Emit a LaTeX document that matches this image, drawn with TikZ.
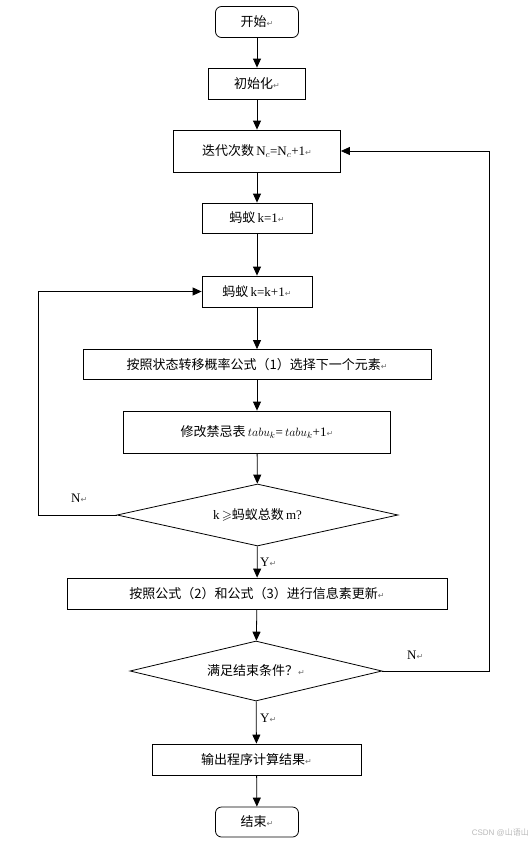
\documentclass[tikz,border=0pt]{standalone}
\usepackage{amssymb}
\usepackage{fontspec}
\usepackage{xcolor}
\usepackage{tikz}
\usetikzlibrary{arrows.meta,positioning,shapes.geometric}
\setmainfont{Noto Sans CJK SC}
\newfontfamily\latin{Liberation Serif}
\newfontfamily\symb{DejaVu Sans}
\newfontfamily\wmark{Liberation Sans}
\definecolor{markgray}{HTML}{707070}
\definecolor{wmgray}{HTML}{B8B8B8}
\newcommand{\retmark}{{\symb\fontsize{8}{8}\selectfont\textcolor{markgray}{↵}}}

\tikzset{
  procbox/.style={draw, line width=0.8pt, minimum height=31pt, inner sep=2pt,
                  font=\fontsize{13}{16}\selectfont},
  termbox/.style={procbox, rounded corners=6pt},
  decision/.style={draw, diamond, aspect=6, inner sep=0pt, line width=0.8pt,
                   font=\fontsize{13}{16}\selectfont},
  flow/.style={-{Triangle[length=9pt,width=8pt]}, line width=0.8pt},
  yn/.style={font=\latin\fontsize{13}{16}\selectfont, inner sep=0pt, anchor=west}
}

\begin{document}
\begin{tikzpicture}[x=1pt, y=-1pt]
    \useasboundingbox (0,0) rectangle (532,846);

    % main column
    \node[termbox, minimum width=83pt] (start) at (257,22) {开始\retmark};
    \node[procbox, minimum width=97pt] (init) at (257,83.5) {初始化\retmark};
    \node[procbox, minimum width=167pt, minimum height=42pt] (iter) at (257,151)
        {迭代次数\,{\latin N$_c$=N$_c$+1}\retmark};
    \node[procbox, minimum width=110pt, minimum height=30pt] (antone) at (257,218)
        {蚂蚁\,{\latin k=1}\retmark};
    \node[procbox, minimum width=110pt] (antnext) at (257,291.5)
        {蚂蚁\,{\latin k=k+1}\retmark};
    \node[procbox, minimum width=348pt, minimum height=30pt] (select) at (257,364.5)
        {按照状态转移概率公式（1）选择下一个元素\retmark};
    \node[procbox, minimum width=267pt, minimum height=42pt] (tabu) at (257,432)
        {修改禁忌表\,$tabu_k${\latin =}\,$tabu_k${\latin +1}\retmark};
    \node[decision, minimum width=281pt, minimum height=62pt] (antcheck) at (257.5,515)
        {{\latin k}\,$\geqslant$蚂蚁总数\,{\latin m?}};
    \node[procbox, minimum width=380pt] (update) at (257,593.5)
        {按照公式（2）和公式（3）进行信息素更新\retmark};
    \node[decision, minimum width=252pt, minimum height=60pt] (endcheck) at (256,671)
        {满足结束条件？\retmark};
    \node[procbox, minimum width=209pt] (output) at (256.5,759.5)
        {输出程序计算结果\retmark};
    \node[termbox, minimum width=83pt, minimum height=30pt] (finish) at (257,822)
        {结束\retmark};

    % loop rails
    \coordinate (leftrail) at (38,0);
    \coordinate (rightrail) at (489,0);

    \draw[flow] (start) -- (init);
    \draw[flow] (init) -- (iter);
    \draw[flow] (iter) -- (antone);
    \draw[flow] (antone) -- (antnext);
    \draw[flow] (antnext) -- (select);
    \draw[flow] (select) -- (tabu);
    \draw[flow] (tabu) -- (antcheck);
    \draw[flow] (antcheck) -- (update);
    \draw[flow] (update) -- (endcheck);
    \draw[flow] (endcheck) -- (output);
    \draw[flow] (output) -- (finish);
    \draw[flow] (antcheck.west) -- (leftrail |- antcheck.west) -- (leftrail |- antnext.west) -- (antnext.west);
    \draw[flow] (endcheck.east) -- (rightrail |- endcheck.east) -- (rightrail |- iter.east) -- (iter.east);

    % branch labels
    \node[yn] (ny1) at (71,498) {N\retmark};
    \node[yn] (yy1) at (260,562) {Y\retmark};
    \node[yn] (ny2) at (407,655) {N\retmark};
    \node[yn] (yy2) at (260,718) {Y\retmark};

    \node[font=\fontsize{8}{8}\selectfont, text=wmgray, anchor=east, inner sep=0pt]
        (credit) at (529,833) {{\wmark CSDN @}山语山};
\end{tikzpicture}
\end{document}
